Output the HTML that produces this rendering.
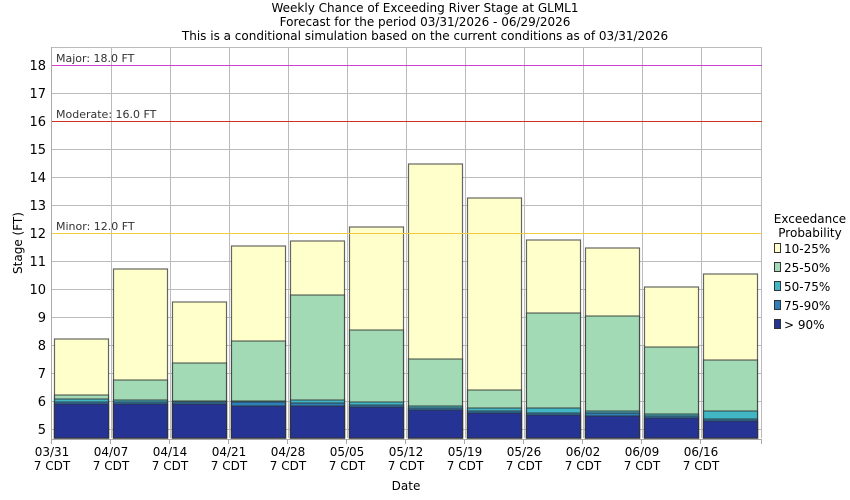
<!DOCTYPE html>
<html><head><style>body{margin:0;background:#fff}svg{display:block}text{font-family:"DejaVu Sans","Liberation Sans",sans-serif}</style></head><body>
<svg width="850" height="500" xmlns="http://www.w3.org/2000/svg">
<rect width="850" height="500" fill="#fff"/>
<g font-size="12" text-anchor="middle" fill="#000">
<text x="425" y="12">Weekly Chance of Exceeding River Stage at GLML1</text>
<text x="425" y="26">Forecast for the period 03/31/2026 - 06/29/2026</text>
<text x="425" y="40">This is a conditional simulation based on the current conditions as of 03/31/2026</text>
</g>
<g stroke="#bbb" stroke-width="1">
<line x1="111.5" y1="47" x2="111.5" y2="438"/><line x1="170.5" y1="47" x2="170.5" y2="438"/><line x1="229.5" y1="47" x2="229.5" y2="438"/><line x1="288.5" y1="47" x2="288.5" y2="438"/><line x1="347.5" y1="47" x2="347.5" y2="438"/><line x1="406.5" y1="47" x2="406.5" y2="438"/><line x1="465.5" y1="47" x2="465.5" y2="438"/><line x1="524.5" y1="47" x2="524.5" y2="438"/><line x1="583.5" y1="47" x2="583.5" y2="438"/><line x1="642.5" y1="47" x2="642.5" y2="438"/><line x1="701.5" y1="47" x2="701.5" y2="438"/><line x1="761.5" y1="47" x2="761.5" y2="438"/>
<line x1="51" y1="47.5" x2="762" y2="47.5"/>
<line x1="51" y1="429.5" x2="762" y2="429.5"/><line x1="51" y1="401.5" x2="762" y2="401.5"/><line x1="51" y1="373.5" x2="762" y2="373.5"/><line x1="51" y1="345.5" x2="762" y2="345.5"/><line x1="51" y1="317.5" x2="762" y2="317.5"/><line x1="51" y1="289.5" x2="762" y2="289.5"/><line x1="51" y1="261.5" x2="762" y2="261.5"/><line x1="51" y1="233.5" x2="762" y2="233.5"/><line x1="51" y1="205.5" x2="762" y2="205.5"/><line x1="51" y1="177.5" x2="762" y2="177.5"/><line x1="51" y1="149.5" x2="762" y2="149.5"/><line x1="51" y1="121.5" x2="762" y2="121.5"/><line x1="51" y1="93.5" x2="762" y2="93.5"/><line x1="51" y1="65.5" x2="762" y2="65.5"/>
</g>
<g stroke="#333" stroke-opacity="0.75" stroke-width="1.2">
<rect x="54.5" y="339" width="54" height="99" fill="#ffffcc"/><rect x="54.5" y="395" width="54" height="43" fill="#a1dab4"/><rect x="54.5" y="399" width="54" height="39" fill="#41b6c4"/><rect x="54.5" y="402" width="54" height="36" fill="#2c7fb8"/><rect x="54.5" y="404" width="54" height="34" fill="#253494"/>
<rect x="113.5" y="269" width="54" height="169" fill="#ffffcc"/><rect x="113.5" y="380" width="54" height="58" fill="#a1dab4"/><rect x="113.5" y="400" width="54" height="38" fill="#41b6c4"/><rect x="113.5" y="402" width="54" height="36" fill="#2c7fb8"/><rect x="113.5" y="404" width="54" height="34" fill="#253494"/>
<rect x="172.5" y="302" width="54" height="136" fill="#ffffcc"/><rect x="172.5" y="363" width="54" height="75" fill="#a1dab4"/><rect x="172.5" y="401" width="54" height="37" fill="#41b6c4"/><rect x="172.5" y="402" width="54" height="36" fill="#2c7fb8"/><rect x="172.5" y="404" width="54" height="34" fill="#253494"/>
<rect x="231.5" y="246" width="54" height="192" fill="#ffffcc"/><rect x="231.5" y="341" width="54" height="97" fill="#a1dab4"/><rect x="231.5" y="401" width="54" height="37" fill="#41b6c4"/><rect x="231.5" y="402" width="54" height="36" fill="#2c7fb8"/><rect x="231.5" y="406" width="54" height="32" fill="#253494"/>
<rect x="290.5" y="241" width="54" height="197" fill="#ffffcc"/><rect x="290.5" y="295" width="54" height="143" fill="#a1dab4"/><rect x="290.5" y="400" width="54" height="38" fill="#41b6c4"/><rect x="290.5" y="403" width="54" height="35" fill="#2c7fb8"/><rect x="290.5" y="406" width="54" height="32" fill="#253494"/>
<rect x="349.5" y="227" width="54" height="211" fill="#ffffcc"/><rect x="349.5" y="330" width="54" height="108" fill="#a1dab4"/><rect x="349.5" y="402" width="54" height="36" fill="#41b6c4"/><rect x="349.5" y="405" width="54" height="33" fill="#2c7fb8"/><rect x="349.5" y="407" width="54" height="31" fill="#253494"/>
<rect x="408.5" y="164" width="54" height="274" fill="#ffffcc"/><rect x="408.5" y="359" width="54" height="79" fill="#a1dab4"/><rect x="408.5" y="406" width="54" height="32" fill="#41b6c4"/><rect x="408.5" y="408" width="54" height="30" fill="#2c7fb8"/><rect x="408.5" y="410" width="54" height="28" fill="#253494"/>
<rect x="467.5" y="198" width="54" height="240" fill="#ffffcc"/><rect x="467.5" y="390" width="54" height="48" fill="#a1dab4"/><rect x="467.5" y="408" width="54" height="30" fill="#41b6c4"/><rect x="467.5" y="411" width="54" height="27" fill="#2c7fb8"/><rect x="467.5" y="413" width="54" height="25" fill="#253494"/>
<rect x="526.5" y="240" width="54" height="198" fill="#ffffcc"/><rect x="526.5" y="313" width="54" height="125" fill="#a1dab4"/><rect x="526.5" y="408" width="54" height="30" fill="#41b6c4"/><rect x="526.5" y="413" width="54" height="25" fill="#2c7fb8"/><rect x="526.5" y="415" width="54" height="23" fill="#253494"/>
<rect x="585.5" y="248" width="54" height="190" fill="#ffffcc"/><rect x="585.5" y="316" width="54" height="122" fill="#a1dab4"/><rect x="585.5" y="411" width="54" height="27" fill="#41b6c4"/><rect x="585.5" y="413" width="54" height="25" fill="#2c7fb8"/><rect x="585.5" y="416" width="54" height="22" fill="#253494"/>
<rect x="644.5" y="287" width="54" height="151" fill="#ffffcc"/><rect x="644.5" y="347" width="54" height="91" fill="#a1dab4"/><rect x="644.5" y="414" width="54" height="24" fill="#41b6c4"/><rect x="644.5" y="416" width="54" height="22" fill="#2c7fb8"/><rect x="644.5" y="418" width="54" height="20" fill="#253494"/>
<rect x="703.5" y="274" width="54" height="164" fill="#ffffcc"/><rect x="703.5" y="360" width="54" height="78" fill="#a1dab4"/><rect x="703.5" y="411" width="54" height="27" fill="#41b6c4"/><rect x="703.5" y="419" width="54" height="19" fill="#2c7fb8"/><rect x="703.5" y="421" width="54" height="17" fill="#253494"/>
</g>
<line x1="51" y1="65.5" x2="762" y2="65.5" stroke="#d040d0"/>
<line x1="51" y1="121.5" x2="762" y2="121.5" stroke="#d03020"/>
<line x1="51" y1="233.5" x2="762" y2="233.5" stroke="#f0cc40"/>
<g font-size="11" fill="#333">
<text x="56" y="62">Major: 18.0 FT</text><text x="56" y="118">Moderate: 16.0 FT</text><text x="56" y="230">Minor: 12.0 FT</text>
</g>
<line x1="51.5" y1="47" x2="51.5" y2="439" stroke="#aaa"/>
<line x1="51" y1="439.5" x2="762" y2="439.5" stroke="#aaa"/>
<g font-size="13" text-anchor="end" fill="#000">
<text x="46" y="434">5</text><text x="46" y="406">6</text><text x="46" y="378">7</text><text x="46" y="350">8</text><text x="46" y="322">9</text><text x="46" y="294">10</text><text x="46" y="266">11</text><text x="46" y="238">12</text><text x="46" y="210">13</text><text x="46" y="182">14</text><text x="46" y="154">15</text><text x="46" y="126">16</text><text x="46" y="98">17</text><text x="46" y="70">18</text>
</g>
<g stroke="#aaa">
<line x1="51.5" y1="439" x2="51.5" y2="444"/><line x1="110.5" y1="439" x2="110.5" y2="444"/><line x1="169.5" y1="439" x2="169.5" y2="444"/><line x1="228.5" y1="439" x2="228.5" y2="444"/><line x1="287.5" y1="439" x2="287.5" y2="444"/><line x1="346.5" y1="439" x2="346.5" y2="444"/><line x1="405.5" y1="439" x2="405.5" y2="444"/><line x1="464.5" y1="439" x2="464.5" y2="444"/><line x1="523.5" y1="439" x2="523.5" y2="444"/><line x1="582.5" y1="439" x2="582.5" y2="444"/><line x1="641.5" y1="439" x2="641.5" y2="444"/><line x1="700.5" y1="439" x2="700.5" y2="444"/><line x1="761.5" y1="439" x2="761.5" y2="444"/>
</g>
<g font-size="12" text-anchor="middle" fill="#000">
<text x="52" y="456">03/31</text><text x="52" y="470">7 CDT</text>
<text x="111" y="456">04/07</text><text x="111" y="470">7 CDT</text>
<text x="170" y="456">04/14</text><text x="170" y="470">7 CDT</text>
<text x="229" y="456">04/21</text><text x="229" y="470">7 CDT</text>
<text x="288" y="456">04/28</text><text x="288" y="470">7 CDT</text>
<text x="347" y="456">05/05</text><text x="347" y="470">7 CDT</text>
<text x="406" y="456">05/12</text><text x="406" y="470">7 CDT</text>
<text x="465" y="456">05/19</text><text x="465" y="470">7 CDT</text>
<text x="524" y="456">05/26</text><text x="524" y="470">7 CDT</text>
<text x="583" y="456">06/02</text><text x="583" y="470">7 CDT</text>
<text x="642" y="456">06/09</text><text x="642" y="470">7 CDT</text>
<text x="701" y="456">06/16</text><text x="701" y="470">7 CDT</text>
</g>
<text x="406" y="490" font-size="12" text-anchor="middle">Date</text>
<text transform="translate(22,243) rotate(-90)" font-size="12" text-anchor="middle">Stage (FT)</text>
<g font-size="12" fill="#000">
<text x="810" y="223" text-anchor="middle">Exceedance</text>
<text x="810" y="237" text-anchor="middle">Probability</text>
<rect x="774.5" y="243.5" width="6" height="9" fill="#ffffcc" stroke="#333"/><text x="784" y="253">10-25%</text>
<rect x="774.5" y="262.5" width="6" height="9" fill="#a1dab4" stroke="#333"/><text x="784" y="272">25-50%</text>
<rect x="774.5" y="281.5" width="6" height="9" fill="#41b6c4" stroke="#333"/><text x="784" y="291">50-75%</text>
<rect x="774.5" y="300.5" width="6" height="9" fill="#2c7fb8" stroke="#333"/><text x="784" y="310">75-90%</text>
<rect x="774.5" y="319.5" width="6" height="9" fill="#253494" stroke="#333"/><text x="784" y="329">&gt; 90%</text>
</g>
</svg>
</body></html>
